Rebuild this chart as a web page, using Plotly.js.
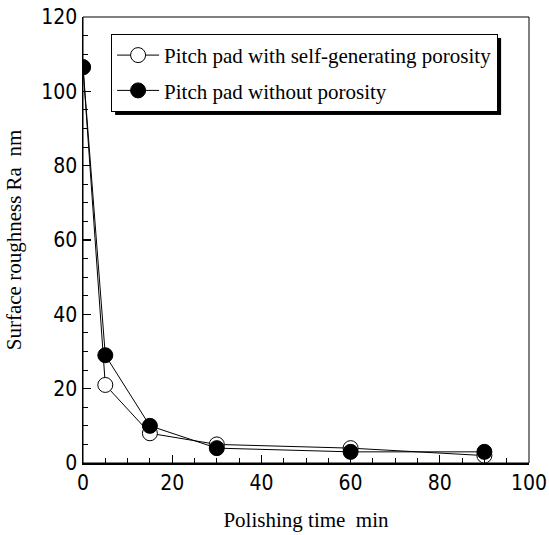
<!DOCTYPE html>
<html><head><meta charset="utf-8">
<script src="https://cdn.plot.ly/plotly-3.0.1.min.js"></script>
<style>body{margin:0;background:#fff}#c{width:549px;height:535px}</style>
</head><body><div id="c"></div>
<script>
const timeMin = [0, 5, 15, 30, 60, 90];
const withPorosity = [106.5, 21, 8, 5, 4, 2];
const withoutPorosity = [106.5, 29, 10, 4, 3, 3];
const seriesNames = ['Pitch pad with self-generating porosity', 'Pitch pad without porosity'];

const traces = [
  {x: timeMin, y: withPorosity, name: seriesNames[0], legendgroup: 'a', mode: 'lines+markers',
   line: {color: '#000', width: 1},
   marker: {symbol: 'circle', size: 15, color: '#fff', line: {color: '#000', width: 1}}},
  {x: timeMin, y: withoutPorosity, name: seriesNames[1], legendgroup: 'b', mode: 'lines+markers',
   line: {color: '#000', width: 1},
   marker: {symbol: 'circle', size: 15, color: '#000', line: {color: '#000', width: 1}}}
];

const tickFamily = 'Liberation Sans Narrow, DejaVu Sans Condensed, Liberation Sans, sans-serif';
const serif = 'Liberation Serif, Times New Roman, serif';

const axisCommon = {
  showline: true, linecolor: '#000', linewidth: 1.5, mirror: false,
  ticks: 'inside', ticklen: 8, tickwidth: 1.2, tickcolor: '#000',
  showgrid: false, zeroline: false,
  tickfont: {family: tickFamily, size: 21, color: '#000'},
  minor: {ticks: 'inside', ticklen: 5, tickwidth: 1, tickcolor: '#000', dtick: 5}
};

const layout = {
  width: 549, height: 535,
  margin: {l: 83, r: 20, t: 17, b: 72},
  paper_bgcolor: '#fff', plot_bgcolor: '#fff',
  showlegend: true,
  xaxis: Object.assign({}, axisCommon, {range: [0, 100], dtick: 20, tick0: 0,
    title: {text: 'Polishing time  min', standoff: 18,
      font: {family: serif, size: 21, color: '#000'}}}),
  yaxis: Object.assign({}, axisCommon, {range: [0, 120], dtick: 20, tick0: 0,
    title: {text: 'Surface roughness Ra  nm', standoff: 14,
      font: {family: serif, size: 21, color: '#000'}}}),
  legend: {x: 0.063, y: 0.962, xanchor: 'left', yanchor: 'top',
    bgcolor: '#fff', bordercolor: '#000', borderwidth: 1,
    font: {family: serif, size: 21, color: '#000'},
    tracegroupgap: 5, itemwidth: 42},
  shapes: [
    {type: 'rect', xref: 'paper', yref: 'paper', x0: 0, x1: 1, y0: 0, y1: 1,
     line: {color: '#000', width: 1}, layer: 'below'}
  ]
};

Plotly.newPlot('c', traces, layout, {staticPlot: true}).then(function(){
  const bg = document.querySelector('.legend .bg');
  if (bg) {
    const w = +bg.getAttribute('width'), h = +bg.getAttribute('height');
    const ns = 'http://www.w3.org/2000/svg';
    const sh = document.createElementNS(ns, 'rect');
    sh.setAttribute('x', 4); sh.setAttribute('y', 4);
    sh.setAttribute('width', w); sh.setAttribute('height', h);
    sh.setAttribute('fill', '#000');
    bg.parentNode.insertBefore(sh, bg);
  }
});
</script></body></html>
